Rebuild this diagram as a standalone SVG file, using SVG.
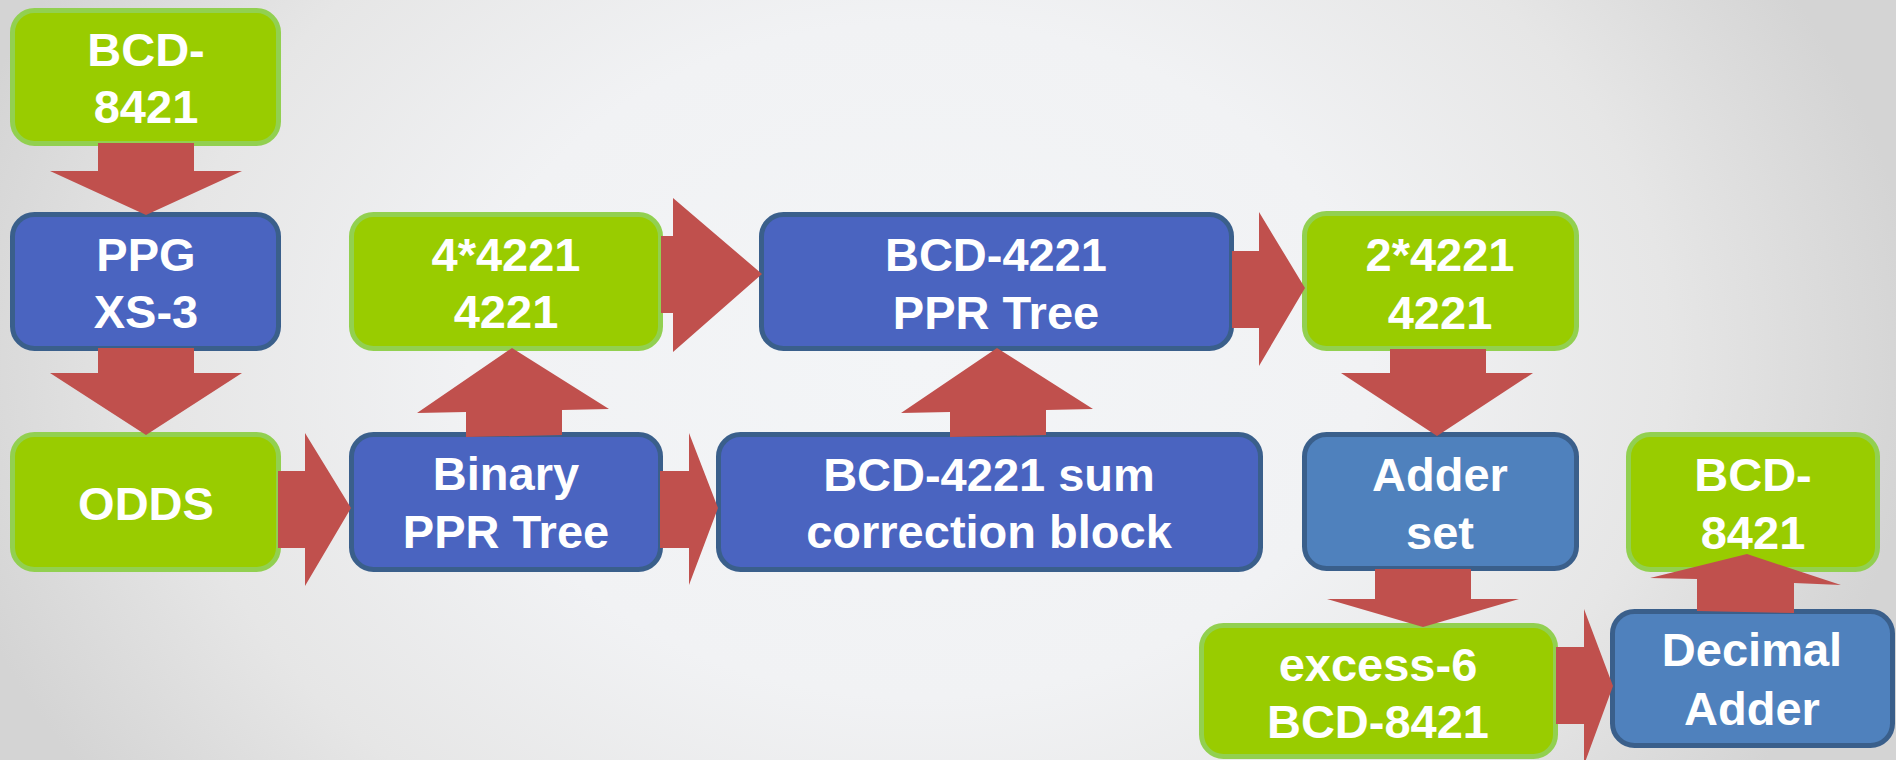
<svg xmlns="http://www.w3.org/2000/svg" width="1896" height="760" viewBox="0 0 1896 760">
  <defs>
    <radialGradient id="bg" gradientUnits="userSpaceOnUse" cx="920" cy="360" r="1000" gradientTransform="translate(920 360) scale(1 0.75) translate(-920 -360)">
      <stop offset="0" stop-color="#f3f5f7"/>
      <stop offset="0.45" stop-color="#f1f2f4"/>
      <stop offset="0.75" stop-color="#e6e6e6"/>
      <stop offset="1" stop-color="#d4d4d4"/>
    </radialGradient>
    <style>
      .green { fill: #99cc00; stroke: #92d050; stroke-width: 5; }
      .blue { fill: #4a64c0; stroke: #3a5f8b; stroke-width: 5; }
      .steel { fill: #4f81bd; stroke: #3a5f8b; stroke-width: 5; }
      .lbl { fill: #ffffff; font-family: "Liberation Sans", Arial, sans-serif; font-weight: bold; font-size: 47px; text-anchor: middle; }
      .arrow { fill: #c0504d; }
    </style>
  </defs>

  <rect x="0" y="0" width="1896" height="760" fill="url(#bg)"/>

  <!-- blocks -->
  <g id="bcd8421-in">
    <rect class="green" x="12.5" y="10.5" width="266" height="133" rx="22"/>
    <text class="lbl" x="146" y="66">BCD-</text>
    <text class="lbl" x="146" y="123">8421</text>
  </g>
  <g id="ppg">
    <rect class="blue" x="12.5" y="214.5" width="266" height="134" rx="22"/>
    <text class="lbl" x="146" y="271">PPG</text>
    <text class="lbl" x="146" y="328">XS-3</text>
  </g>
  <g id="odds">
    <rect class="green" x="12.5" y="434.5" width="266" height="135" rx="22"/>
    <text class="lbl" x="146" y="520">ODDS</text>
  </g>
  <g id="four-4221">
    <rect class="green" x="351.5" y="214.5" width="309" height="134" rx="22"/>
    <text class="lbl" x="506" y="271">4*4221</text>
    <text class="lbl" x="506" y="328">4221</text>
  </g>
  <g id="binary-ppr">
    <rect class="blue" x="351.5" y="434.5" width="309" height="135" rx="22"/>
    <text class="lbl" x="506" y="490">Binary</text>
    <text class="lbl" x="506" y="548">PPR Tree</text>
  </g>
  <g id="bcd4221-ppr">
    <rect class="blue" x="761.5" y="214.5" width="470" height="134" rx="22"/>
    <text class="lbl" x="996" y="271">BCD-4221</text>
    <text class="lbl" x="996" y="329">PPR Tree</text>
  </g>
  <g id="sum-correction">
    <rect class="blue" x="718.5" y="434.5" width="542" height="135" rx="22"/>
    <text class="lbl" x="989" y="491">BCD-4221 sum</text>
    <text class="lbl" x="989" y="548">correction block</text>
  </g>
  <g id="two-4221">
    <rect class="green" x="1304.5" y="213.5" width="272" height="135" rx="22"/>
    <text class="lbl" x="1440" y="271">2*4221</text>
    <text class="lbl" x="1440" y="329">4221</text>
  </g>
  <g id="adder-set">
    <rect class="steel" x="1304.5" y="434.5" width="272" height="134" rx="22"/>
    <text class="lbl" x="1440" y="491">Adder</text>
    <text class="lbl" x="1440" y="549">set</text>
  </g>
  <g id="excess6">
    <rect class="green" x="1201.5" y="625.5" width="354" height="131" rx="22"/>
    <text class="lbl" x="1378" y="681">excess-6</text>
    <text class="lbl" x="1378" y="738">BCD-8421</text>
  </g>
  <g id="decimal-adder">
    <rect class="steel" x="1612.5" y="611.5" width="280" height="134" rx="22"/>
    <text class="lbl" x="1752" y="666">Decimal</text>
    <text class="lbl" x="1752" y="725">Adder</text>
  </g>
  <g id="bcd8421-out">
    <rect class="green" x="1628.5" y="434.5" width="249" height="135" rx="22"/>
    <text class="lbl" x="1753" y="491">BCD-</text>
    <text class="lbl" x="1753" y="549">8421</text>
  </g>

  <!-- block arrows -->
  <g id="connectors">
    <polygon class="arrow" points="98,143 194,143 194,171 242,171 146,215 50,171 98,171"/>
    <polygon class="arrow" points="98,348 194,348 194,373 242,373 146,435 50,373 98,373"/>
    <polygon class="arrow" points="278,471 305,471 305,433 351,508 305,586 305,548 278,548"/>
    <polygon class="arrow" points="466,437 466,412 417,413 512,348 609,409 562,410 562,435"/>
    <polygon class="arrow" points="661,236 673,236 673,198 762,274 673,352 673,313 661,313"/>
    <polygon class="arrow" points="660,471 689,471 689,433 718,508 689,585 689,548 660,548"/>
    <polygon class="arrow" points="950,437 950,412 901,413 997,348 1093,409 1046,410 1046,435"/>
    <polygon class="arrow" points="1232,251 1259,251 1259,212 1305,288 1259,366 1259,328 1232,328"/>
    <polygon class="arrow" points="1390,349 1486,349 1486,373 1533,373 1437,436 1341,373 1390,373"/>
    <polygon class="arrow" points="1375,569 1471,569 1471,599 1519,599 1423,627 1327,599 1375,599"/>
    <polygon class="arrow" points="1556,647 1584,647 1584,609 1613,686 1584,765 1584,724 1556,724"/>
    <polygon class="arrow" points="1697,611 1697,579 1650,578 1747,554 1841,585 1794,583 1794,613"/>
  </g>
</svg>
